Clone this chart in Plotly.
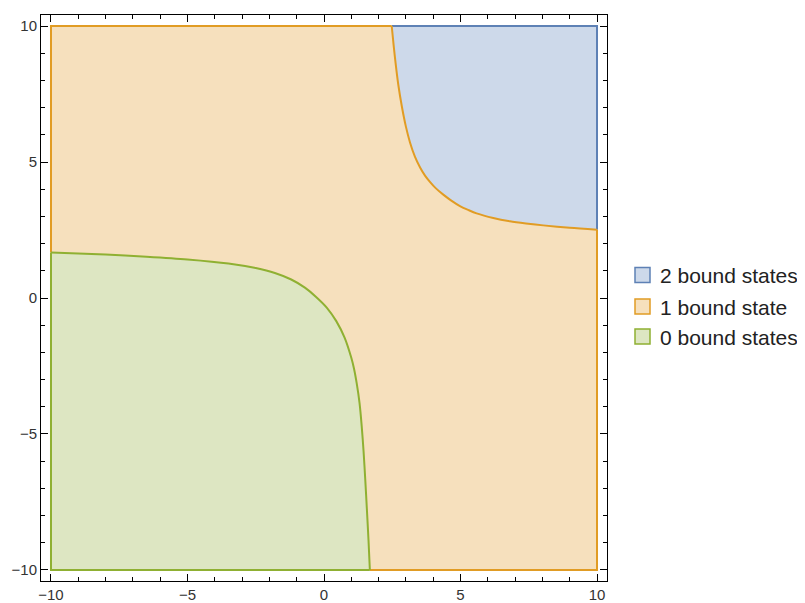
import plotly.graph_objects as go

# Boundary curve between "2 bound states" and "1 bound state" (upper right)
upper_x = [2.48, 2.55, 2.62, 2.72, 2.85, 3.00, 3.15, 3.33, 3.52, 3.70, 3.88, 4.10,
           4.37, 4.65, 4.98, 5.30, 5.59, 6.20, 6.81, 7.40, 8.03, 9.00, 10.0]
upper_y = [10.0, 9.30, 8.65, 7.85, 7.05, 6.30, 5.72, 5.20, 4.80, 4.50, 4.27, 4.03,
           3.80, 3.59, 3.38, 3.23, 3.11, 2.94, 2.82, 2.74, 2.67, 2.58, 2.51]

# Boundary curve between "1 bound state" and "0 bound states" (lower left)
lower_x = [-10.0, -8.0, -6.5, -5.0, -3.5, -2.5, -1.8, -1.2, -0.7, -0.3, 0.1, 0.45,
           0.75, 1.0, 1.1, 1.2, 1.3, 1.38, 1.45, 1.51, 1.57, 1.63, 1.68]
lower_y = [1.67, 1.60, 1.52, 1.42, 1.27, 1.10, 0.92, 0.68, 0.38, 0.05, -0.35, -0.85,
           -1.45, -2.20, -2.60, -3.15, -3.85, -4.70, -5.65, -6.65, -7.75, -8.90, -10.0]

x_min, x_max = -10, 10
y_min, y_max = -10, 10

labels = ["2 bound states", "1 bound state", "0 bound states"]
line_colors = ["#5E81B5", "#E19C24", "#8FB032"]
fill_colors = ["#CDD9EA", "#F6E0BD", "#DDE6C2"]

# Figure geometry (pixels inside the figure)
W, H = 797, 595
ML, MR, MT, MB = 33, 198, 7, 22
PW, PH = W - ML - MR, H - MT - MB


def px_x(p):
    return (p - ML) / PW


def px_y(p):
    return (H - MB - p) / PH


fig = go.Figure()


def fill(x, y, fc):
    fig.add_trace(go.Scatter(x=x, y=y, fill="toself", mode="lines",
                             line=dict(width=0, color=fc), fillcolor=fc,
                             showlegend=False, hoverinfo="skip"))


def edge(x, y, lc, shape="linear"):
    fig.add_trace(go.Scatter(x=x, y=y, mode="lines",
                             line=dict(color=lc, width=2, shape=shape, smoothing=0.8),
                             showlegend=False, hoverinfo="skip"))


# Region fills
fill(upper_x + [x_max, upper_x[0]], upper_y + [y_max, y_max], fill_colors[0])
fill([x_min, x_min] + upper_x + [x_max, lower_x[-1]] + lower_x[::-1],
     [lower_y[0], y_max] + upper_y + [y_min, y_min] + lower_y[::-1], fill_colors[1])
fill([x_min] + lower_x + [x_min], [y_min] + lower_y + [y_min], fill_colors[2])

# Region outlines (drawn in order: 2, 1, 0 bound states)
edge([upper_x[0], x_max, x_max], [y_max, y_max, upper_y[-1]], line_colors[0])
edge([x_min, x_min, upper_x[0]], [lower_y[0], y_max, y_max], line_colors[1])
edge([x_max, x_max, lower_x[-1]], [upper_y[-1], y_min, y_min], line_colors[1])
edge(upper_x, upper_y, line_colors[1], "spline")
edge([x_min, x_min, lower_x[-1]], [lower_y[0], y_min, y_min], line_colors[2])
edge(lower_x, lower_y, line_colors[2], "spline")

# Custom legend (squares + text), placed to the right of the frame
legend_rows = [267, 298.5, 328.5]     # row centres (px in figure)
sq_left, sq_right = 627, 642
text_left = 650
shapes = []
annotations = []
for lab, lc, fc, cy in zip(labels, line_colors, fill_colors, legend_rows):
    shapes.append(dict(type="rect", xref="paper", yref="paper",
                       x0=px_x(sq_left), x1=px_x(sq_right),
                       y0=px_y(cy + 7.5), y1=px_y(cy - 7.5),
                       fillcolor=fc, line=dict(color=lc, width=1.5)))
    annotations.append(dict(text=lab, xref="paper", yref="paper",
                            x=px_x(text_left), y=px_y(cy + 1), xanchor="left",
                            yanchor="middle", showarrow=False,
                            font=dict(family="Liberation Sans, Arial, sans-serif",
                                      size=21, color="#222222")))

axis_common = dict(
    showline=True, linecolor="black", linewidth=1, mirror="ticks",
    ticks="inside", ticklen=7, tickwidth=1, tickcolor="black",
    tick0=0, dtick=5, showgrid=False, zeroline=False, automargin=False,
    minor=dict(dtick=1, ticks="inside", ticklen=4, tickwidth=1, tickcolor="black"),
    tickfont=dict(family="Liberation Sans, Arial, sans-serif", size=15, color="#333333"),
)

fig.update_layout(
    width=W, height=H,
    margin=dict(l=ML, r=MR, t=MT, b=MB),
    plot_bgcolor="white", paper_bgcolor="white",
    xaxis=dict(range=[-10.366, 10.366], **axis_common),
    yaxis=dict(range=[-10.405, 10.405], **axis_common),
    shapes=shapes, annotations=annotations,
    showlegend=False,
)

fig.write_html("out.html")
